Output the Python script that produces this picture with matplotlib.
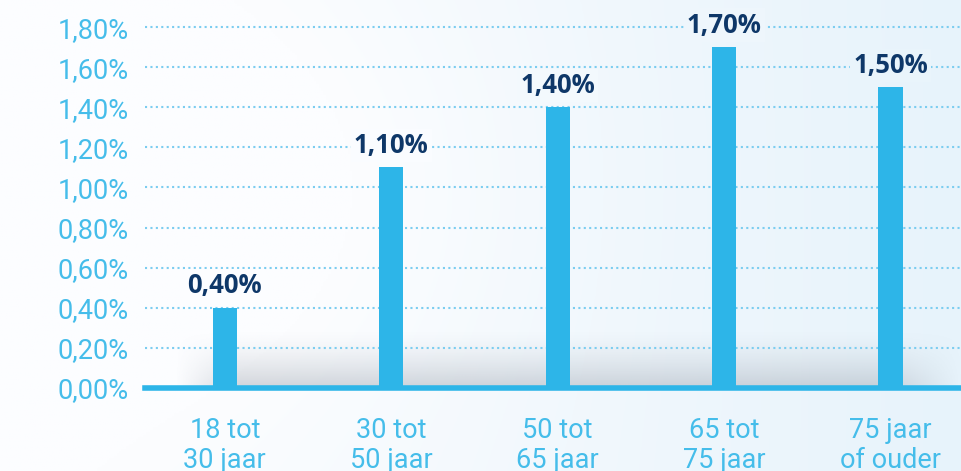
import numpy as np
import matplotlib.pyplot as plt

categories = ["18 tot\n30 jaar", "30 tot\n50 jaar", "50 tot\n65 jaar", "65 tot\n75 jaar", "75 jaar\nof ouder"]
values = [0.40, 1.10, 1.40, 1.70, 1.50]
yticks = [0.0, 0.2, 0.4, 0.6, 0.8, 1.0, 1.2, 1.4, 1.6, 1.8]

bar_color = "#2db5e8"
tick_color = "#45bdea"
grid_color = "#7ccdf0"
label_color = "#0e3768"


def pct(v):
    return f"{v:.2f}".replace(".", ",") + "%"


fig = plt.figure(figsize=(9.62, 4.71), dpi=100)

# soft background: white on the left, pale blue to the right
bg = fig.add_axes([0, 0, 1, 1], zorder=-10)
h, w = 200, 400
xx, yy = np.meshgrid(np.linspace(0, 1, w), np.linspace(0, 1, h))
left = np.array([252, 253, 255]) / 255
right = np.array([231, 243, 251]) / 255
t = np.clip(xx ** 1.2, 0, 1)
blob = np.exp(-(((xx - 0.25) / 0.3) ** 2 + ((yy - 0.6) / 0.5) ** 2))
t = np.clip(t - 0.35 * blob, 0, 1)
img = left[None, None, :] * (1 - t[..., None]) + right[None, None, :] * t[..., None]
bg.imshow(img, aspect="auto", extent=[0, 1, 0, 1], origin="lower")
bg.set_axis_off()


def bg_at(xf):
    tt = np.clip(xf ** 1.2 - 0.35 * np.exp(-(((xf - 0.25) / 0.3) ** 2)), 0, 1)
    return tuple(left * (1 - tt) + right * tt)


ax = fig.add_axes([145 / 962, 83 / 471, 1 - 145 / 962, 388 / 471])
ax.patch.set_alpha(0)
x = np.arange(len(categories))
ax.set_xlim(-0.48, 4.43)
ax.set_ylim(0, 1.935)

# grey shadow just above the baseline
sh_h, sh_w = 60, 300
sy, sx = np.meshgrid(np.linspace(1, 0, sh_h), np.linspace(0, 1, sh_w), indexing="ij")
edge = np.clip(sx / 0.08, 0, 1) * np.clip((1 - sx) / 0.1, 0, 1)
alpha = (1 - sy) ** 1.5 * 0.42 * edge
shadow = np.zeros((sh_h, sh_w, 4))
shadow[..., :3] = np.array([150, 158, 170]) / 255
shadow[..., 3] = alpha
ax.imshow(shadow, aspect="auto", extent=[-0.3, 4.43, 0, 0.29], origin="upper", zorder=0.5)

for v in yticks[1:]:
    ax.axhline(v, color=grid_color, lw=1.5, ls=(0, (1, 1.6)), zorder=1)

ax.bar(x, values, width=0.145, color=bar_color, zorder=3)
ax.axhline(0, color=bar_color, lw=4, zorder=4, clip_on=False)

for xi, v in zip(x, values):
    xf = (145 + (xi + 0.48) / 4.91 * 817) / 962
    ax.annotate(pct(v), (xi, v), xytext=(0, 10.5), textcoords="offset points",
                ha="center", va="baseline", fontsize=18.5, fontweight="bold",
                family="Open Sans", color=label_color, zorder=5,
                bbox=dict(boxstyle="square,pad=0.12", fc=bg_at(xf), ec="none"))

ax.set_yticks(yticks)
ax.set_yticklabels([pct(v) for v in yticks])
ax.set_xticks(x)
ax.set_xticklabels(categories, linespacing=1.12)
ax.tick_params(axis="y", length=0, pad=12, labelsize=19.5, labelcolor=tick_color)
ax.tick_params(axis="x", length=0, pad=21, labelsize=19.5, labelcolor=tick_color)
for lab in ax.get_xticklabels() + ax.get_yticklabels():
    lab.set_family("Roboto")
for s in ax.spines.values():
    s.set_visible(False)

fig.savefig("out.png", dpi=100)
